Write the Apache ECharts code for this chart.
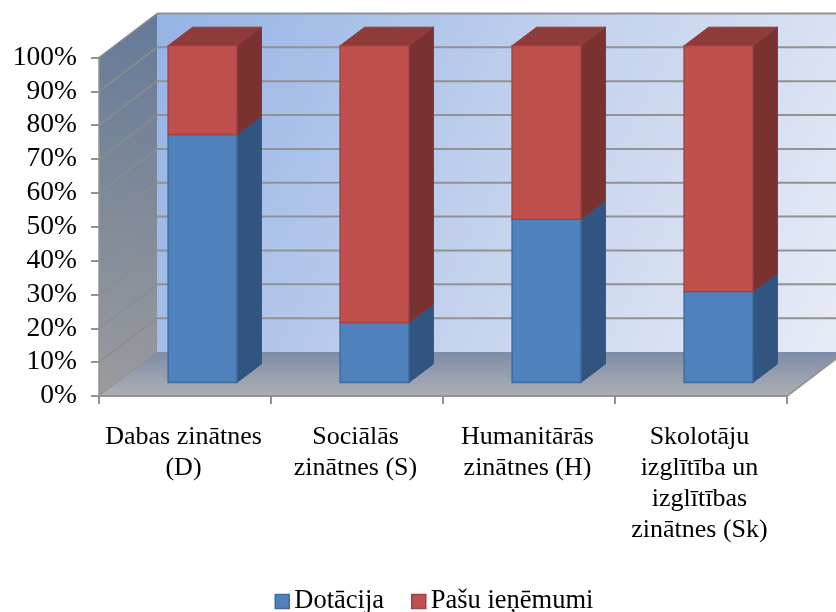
<!DOCTYPE html>
<html><head><meta charset="utf-8">
<style>html,body{margin:0;padding:0;background:#fff}#c{width:836px;height:612px}</style>
<script src="https://cdn.jsdelivr.net/npm/echarts@6/dist/echarts.min.js"></script>
</head><body><div id="c"></div>
<script>
var categories = ['Dabas zinātnes\n(D)', 'Sociālās\nzinātnes (S)', 'Humanitārās\nzinātnes (H)', 'Skolotāju\nizglītība un\nizglītības\nzinātnes (Sk)'];
var dotacija = [73.6, 17.8, 48.5, 27];
var pasu = [26.4, 82.2, 51.5, 73];
var yTicks = [0,10,20,30,40,50,60,70,80,90,100];
var FONT = '"Liberation Serif","Times New Roman",serif';
var wallDx = 58, wallDy = -44, barDx = 17.5, barDy = -13.5, depthDx = 24.5, depthDy = -18.5, perspective = 0.995;

function poly(pts, style){ return {type:'polygon', shape:{points:pts}, style:style}; }

function renderWalls(params, api){
  var cs = params.coordSys, L = cs.x, R = cs.x + cs.width;
  var y0 = api.coord([0,0])[1], y1 = api.coord([0,100])[1];
  var els = [];
  els.push(poly([[L+wallDx,y1+wallDy],[R+wallDx,y1+wallDy],[R+wallDx,y0+wallDy],[L+wallDx,y0+wallDy]],
    {fill:new echarts.graphic.LinearGradient(0,0,1,1,[{offset:0,color:'#94b3e6'},{offset:0.5,color:'#c2d1ed'},{offset:1,color:'#e8ecf6'}])}));
  els.push(poly([[L,y1],[L+wallDx,y1+wallDy],[L+wallDx,y0+wallDy],[L,y0]],
    {fill:new echarts.graphic.LinearGradient(0.85,0,0.15,1,[{offset:0,color:'#657a98'},{offset:0.5,color:'#7f8a99'},{offset:1,color:'#9a9b9e'}])}));
  els.push(poly([[L,y0],[L+wallDx,y0+wallDy],[R+wallDx,y0+wallDy],[R,y0]],
    {fill:new echarts.graphic.LinearGradient(0,0,0,1,[{offset:0,color:'#7f8ca8'},{offset:1,color:'#adafb5'}])}));
  yTicks.forEach(function(t){
    if (t === 0) return;
    var y = api.coord([0,t])[1];
    els.push({type:'line', shape:{x1:L,y1:y,x2:L+wallDx,y2:y+wallDy}, style:{stroke:'#8c8c8c', lineWidth:1.5}});
    els.push({type:'line', shape:{x1:L+wallDx,y1:y+wallDy,x2:R+wallDx,y2:y+wallDy}, style:{stroke:'#929292', lineWidth:2}});
  });
  els.push({type:'line', shape:{x1:L,y1:y0,x2:L+wallDx,y2:y0+wallDy}, style:{stroke:'#8c8c8c', lineWidth:1}});
  els.push({type:'line', shape:{x1:R,y1:y0,x2:R+wallDx,y2:y0+wallDy}, style:{stroke:'#949494', lineWidth:2}});
  return {type:'group', children:els};
}

function barRenderer(front, frontStroke, side, top){
  return function(params, api){
    var c = api.value(0), a = api.value(1), b = api.value(2);
    var w = api.size([1,0])[0] * 0.4;
    var base = api.coord([c,0]), pa = api.coord([c,a]), pb = api.coord([c,b]);
    var l = pa[0] + barDx - w/2, r = l + w;
    var ya = base[1] + (pa[1]-base[1])*perspective + barDy, yb = base[1] + (pb[1]-base[1])*perspective + barDy;
    return {type:'group', children:[
      poly([[r,ya],[r+depthDx,ya+depthDy],[r+depthDx,yb+depthDy],[r,yb]], {fill:side, stroke:side, lineWidth:1}),
      poly([[l,yb],[l+depthDx,yb+depthDy],[r+depthDx,yb+depthDy],[r,yb]], {fill:top, stroke:top, lineWidth:1}),
      poly([[l,ya],[r,ya],[r,yb],[l,yb]], {fill:front, stroke:frontStroke, lineWidth:1.5})
    ]};
  };
}

var dotData = categories.map(function(_,i){ return [i, 0, dotacija[i]]; });
var pasuData = categories.map(function(_,i){ return [i, dotacija[i], dotacija[i]+pasu[i]]; });

var chart = echarts.init(document.getElementById('c'), null, {renderer:'canvas'});
chart.setOption({
  animation:false,
  backgroundColor:'#fff',
  grid:{left:99, right:49, top:57.5, bottom:216, containLabel:false},
  legend:{
    left:274.5, top:588, itemWidth:14, itemHeight:14, itemGap:27, icon:'rect', selectedMode:false,
    data:['Dotācija','Pašu ieņēmumi'], padding:0, itemStyle:{borderWidth:1.5},
    textStyle:{fontFamily:FONT, fontSize:26.5, color:'#000', padding:[0,0,0,0]}
  },
  xAxis:{type:'category', data:categories, boundaryGap:true,
    axisLine:{show:true, lineStyle:{color:'#929292', width:2}},
    axisTick:{show:true, inside:false, length:8, alignWithLabel:false, lineStyle:{color:'#929292', width:2}},
    axisLabel:{interval:0, fontFamily:FONT, fontSize:26, color:'#000', margin:26, lineHeight:31, padding:[0,3,0,0]}
  },
  yAxis:{type:'value', min:0, max:100, interval:10,
    axisLine:{show:true, lineStyle:{color:'#929292', width:1.5}},
    axisTick:{show:true, length:8, lineStyle:{color:'#929292', width:2}},
    splitLine:{show:false},
    axisLabel:{formatter:'{value}%', fontFamily:FONT, fontSize:27.5, color:'#000', margin:22}
  },
  series:[
    {type:'custom', name:'walls', silent:true, z:-1, data:[[0,0]], renderItem:renderWalls, encode:{x:0,y:1}},
    {type:'custom', name:'Dotācija', z:3, data:dotData, itemStyle:{color:'#4f81bd', borderColor:'#3f6b9f'},
      renderItem:barRenderer('#4f81bd','#3f6b9f','#325480','#3a6090'), encode:{x:0,y:[1,2]}},
    {type:'custom', name:'Pašu ieņēmumi', z:4, data:pasuData, itemStyle:{color:'#c0504d', borderColor:'#a5413f'},
      renderItem:barRenderer('#c0504d','#a5413f','#7a3230','#8f3b39'), encode:{x:0,y:[1,2]}}
  ]
});
</script></body></html>
